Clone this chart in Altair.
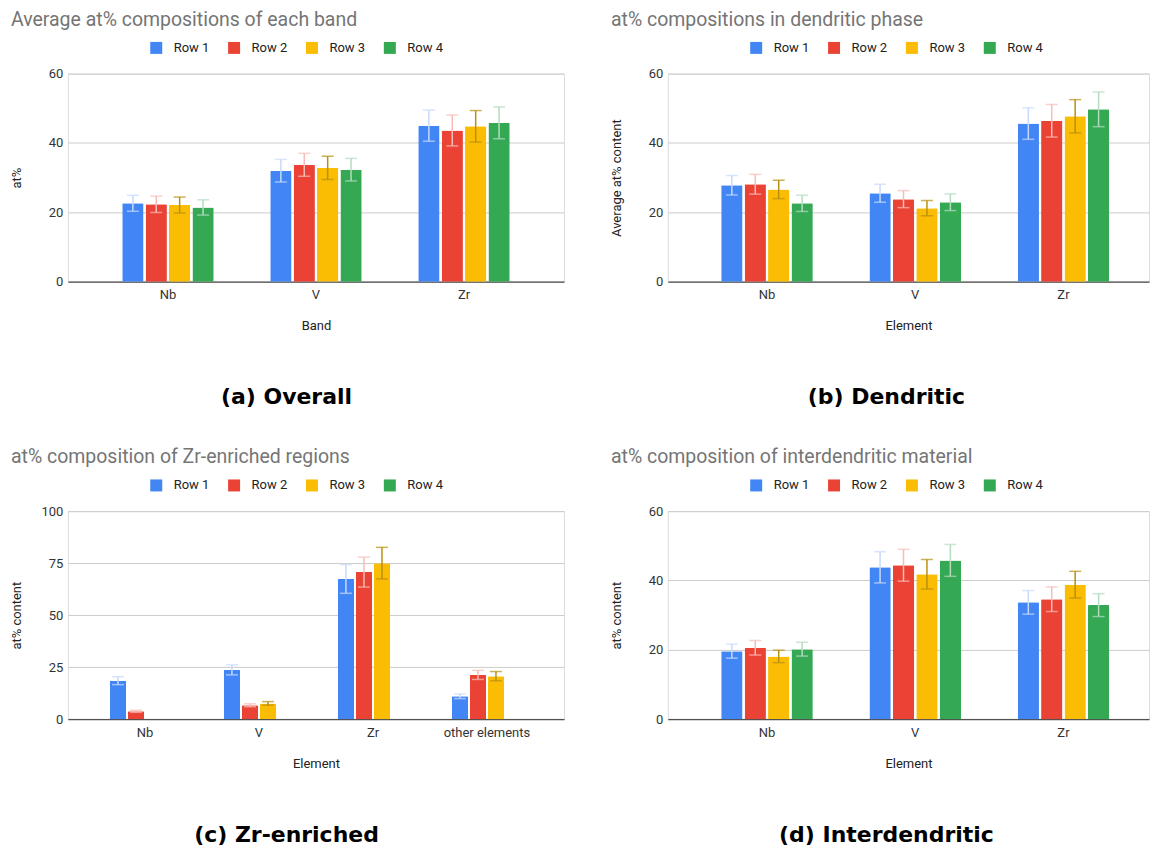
import altair as alt
import pandas as pd

ROWS = ["Row 1", "Row 2", "Row 3", "Row 4"]
BAR_COLORS = ["#4285F4", "#EA4335", "#FBBC04", "#34A853"]
ERR_COLORS = ["#c6dafc", "#f7bcb7", "#b8900f", "#b3dcc0"]

# (a) Overall
a_categories = ["Nb", "V", "Zr"]
a_r1 = [22.6, 32.0, 45.0]
a_r2 = [22.3, 33.7, 43.6]
a_r3 = [22.1, 32.8, 44.8]
a_r4 = [21.4, 32.3, 45.8]
a_e1 = [2.3, 3.25, 4.5]
a_e2 = [2.35, 3.3, 4.45]
a_e3 = [2.3, 3.35, 4.55]
a_e4 = [2.2, 3.25, 4.6]

# (b) Dendritic
b_categories = ["Nb", "V", "Zr"]
b_r1 = [27.8, 25.5, 45.6]
b_r2 = [28.1, 23.8, 46.4]
b_r3 = [26.6, 21.2, 47.7]
b_r4 = [22.6, 22.9, 49.7]
b_e1 = [2.8, 2.6, 4.55]
b_e2 = [2.85, 2.45, 4.7]
b_e3 = [2.65, 2.2, 4.8]
b_e4 = [2.35, 2.4, 5.0]

# (c) Zr-enriched
c_categories = ["Nb", "V", "Zr", "other elements"]
c_r1 = [18.5, 23.7, 67.4, 11.0]
c_r2 = [3.8, 6.7, 70.7, 21.3]
c_r3 = [None, 7.6, 75.0, 20.7]
c_r4 = [None, None, None, None]
c_e1 = [1.9, 2.4, 6.9, 1.1]
c_e2 = [0.5, 0.7, 7.2, 2.2]
c_e3 = [None, 0.85, 7.6, 2.2]
c_e4 = [None, None, None, None]

# (d) Interdendritic
d_categories = ["Nb", "V", "Zr"]
d_r1 = [19.6, 43.8, 33.7]
d_r2 = [20.6, 44.4, 34.6]
d_r3 = [18.1, 41.8, 38.8]
d_r4 = [20.2, 45.8, 32.9]
d_e1 = [2.0, 4.5, 3.4]
d_e2 = [2.1, 4.6, 3.55]
d_e3 = [1.8, 4.25, 3.85]
d_e4 = [2.0, 4.6, 3.3]

FONT = "Roboto"


def make_df(categories, means, errs):
    recs = []
    for r, ms, es in zip(ROWS, means, errs):
        for c, m, e in zip(categories, ms, es):
            if m is None:
                continue
            recs.append({"cat": c, "row": r, "mean": m, "lo": m - e, "hi": m + e})
    return pd.DataFrame(recs)


def panel(df, categories, title, xtitle, ytitle, ydomain, yticks, caption,
          width, x_po, x_align):
    height = 208.4
    xenc = alt.X(
        "cat:N", sort=categories,
        scale=alt.Scale(domain=categories, paddingInner=0.382,
                        paddingOuter=x_po, align=x_align),
        axis=alt.Axis(title=xtitle, labelAngle=0, ticks=False, grid=False,
                      domainColor="#333333", domainWidth=1, labelPadding=7,
                      labelFont=FONT, labelFontSize=13, labelColor="#333333",
                      titleFont=FONT, titleFontSize=13, titleFontWeight="normal",
                      titleColor="#222222", titleY=44, titleBaseline="middle"),
    )
    xoff = alt.XOffset("row:N", scale=alt.Scale(domain=ROWS, paddingInner=0.09,
                                                paddingOuter=0))
    yaxis = alt.Axis(values=yticks, title=ytitle, domain=False, ticks=False,
                     grid=True, gridColor="#cccccc", labelPadding=5,
                     labelFont=FONT, labelFontSize=13, labelColor="#333333",
                     titleFont=FONT, titleFontSize=13, titleFontWeight="normal",
                     titleColor="#222222", titleX=-51, titleY=height / 2,
                     titleAngle=270, titleAlign="center", titleBaseline="middle")
    yscale = alt.Scale(domain=ydomain, nice=False, zero=True)

    bars = alt.Chart(df).mark_bar(cornerRadiusTopLeft=1, cornerRadiusTopRight=1).encode(
        x=xenc, xOffset=xoff,
        y=alt.Y("mean:Q", scale=yscale, axis=yaxis),
        color=alt.Color("row:N", scale=alt.Scale(domain=ROWS, range=BAR_COLORS),
                        legend=alt.Legend(orient="none", legendX=82, legendY=-32.5,
                                          direction="horizontal", title=None,
                                          symbolType="square", symbolSize=144,
                                          symbolStrokeWidth=0, labelFont=FONT,
                                          labelFontSize=13, labelColor="#222222",
                                          labelOffset=11, columnPadding=18)),
    )
    rules = alt.Chart(df).mark_rule(strokeWidth=1.5).encode(
        x=xenc, xOffset=xoff,
        y=alt.Y("lo:Q", scale=yscale, axis=yaxis), y2="hi:Q",
        stroke=alt.Stroke("row:N", scale=alt.Scale(domain=ROWS, range=ERR_COLORS),
                          legend=None),
    )
    caps_hi = alt.Chart(df).mark_tick(size=12, thickness=1.5).encode(
        x=xenc, xOffset=xoff,
        y=alt.Y("hi:Q", scale=yscale, axis=yaxis),
        fill=alt.Fill("row:N", scale=alt.Scale(domain=ROWS, range=ERR_COLORS),
                      legend=None),
    )
    caps_lo = alt.Chart(df).mark_tick(size=12, thickness=1.5).encode(
        x=xenc, xOffset=xoff,
        y=alt.Y("lo:Q", scale=yscale, axis=yaxis),
        fill=alt.Fill("row:N", scale=alt.Scale(domain=ROWS, range=ERR_COLORS),
                      legend=None),
    )
    cap_text = alt.Chart(pd.DataFrame({"caption": [caption]})).mark_text(
        font="DejaVu Sans", fontWeight="bold", fontSize=22, color="#000000",
        align="center", baseline="alphabetic",
    ).encode(x=alt.value(219), y=alt.value(331), text="caption:N")

    return alt.layer(bars, rules, caps_hi, caps_lo, cap_text).properties(
        width=width, height=height,
        title=alt.TitleParams(text=title, anchor="start", frame="group", dx=-57,
                              offset=-4, baseline="alphabetic", font=FONT,
                              fontSize=19.5, fontWeight="normal", color="#757575"),
    )


pa = panel(make_df(a_categories, [a_r1, a_r2, a_r3, a_r4], [a_e1, a_e2, a_e3, a_e4]),
           a_categories, "Average at% compositions of each band", "Band", "at%",
           [0, 60], [0, 20, 40, 60], "(a) Overall", 497, 0.367, 0.5)
pb = panel(make_df(b_categories, [b_r1, b_r2, b_r3, b_r4], [b_e1, b_e2, b_e3, b_e4]),
           b_categories, "at% compositions in dendritic phase", "Element",
           "Average at% content", [0, 60], [0, 20, 40, 60], "(b) Dendritic",
           482, 0.314, 0.573)
pc = panel(make_df(c_categories, [c_r1, c_r2, c_r3, c_r4], [c_e1, c_e2, c_e3, c_e4]),
           c_categories, "at% composition of Zr-enriched regions", "Element",
           "at% content", [0, 100], [0, 25, 50, 75, 100], "(c) Zr-enriched",
           497, 0.367, 0.5)
pd_ = panel(make_df(d_categories, [d_r1, d_r2, d_r3, d_r4], [d_e1, d_e2, d_e3, d_e4]),
            d_categories, "at% composition of interdendritic material", "Element",
            "at% content", [0, 60], [0, 20, 40, 60], "(d) Interdendritic",
            482, 0.314, 0.573)

chart = alt.concat(
    pa, pb, pc, pd_, columns=2, spacing={"row": 229.3, "column": 104},
    bounds="flush",
).resolve_scale(
    color="independent", stroke="independent", fill="independent",
    x="independent", y="independent", xOffset="independent",
).resolve_legend(color="independent").properties(
    padding={"left": 2, "top": 0, "right": 0, "bottom": 0},
).configure_view(stroke=None).configure(background="white")

chart.save("out.html", embed_options={"renderer": "svg", "actions": False})
